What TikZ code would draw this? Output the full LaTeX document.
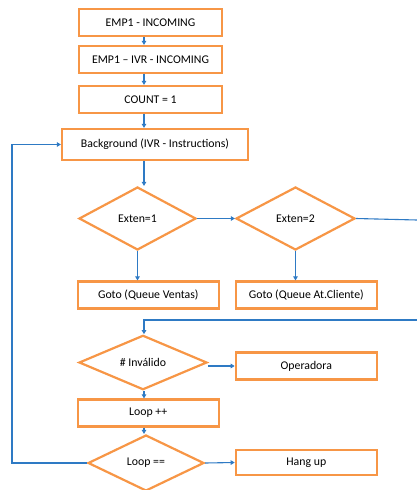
\documentclass[tikz,border=0pt]{standalone}
\usepackage{fontspec}
\setmainfont{Carlito}
\usepackage{tikz}
\usetikzlibrary{arrows.meta,shapes.geometric}

\definecolor{boxorange}{HTML}{F79646}
\definecolor{lineblue}{HTML}{2E7AC4}

\begin{document}
\begin{tikzpicture}[
  x=1pt, y=-1pt,
  font=\fontsize{11.8}{13}\selectfont,
  box/.style={draw=boxorange, line width=2.2pt, fill=white, minimum width=143pt, minimum height=27pt, align=center},
  test/.style={draw=boxorange, line width=2.2pt, fill=white, diamond, inner sep=0pt, align=center},
  flow/.style={draw=lineblue, line width=1.1pt},
  >={Triangle[length=4pt,width=4.5pt]}
]
  \useasboundingbox (0,0) rectangle (417,490);

  % Nodes
  \node[box] (inc) at (150.5,22.5) {EMP1 - INCOMING};
  \node[box] (ivr) at (150.5,59.5) {EMP1 -- IVR - INCOMING};
  \node[box] (count) at (150.5,99.5) {COUNT = 1};
  \node[box, minimum width=186pt, minimum height=31pt] (bg) at (155,144.5) {Background (IVR - Instructions)};
  \node[test, minimum width=117pt, minimum height=63pt] (ext1) at (137.5,218.5) {Exten=1};
  \node[test, minimum width=119pt, minimum height=63pt] (ext2) at (295.5,218.5) {Exten=2};
  \node[box, minimum width=141pt] (ventas) at (148.3,295) {Goto (Queue Ventas)};
  \node[box, minimum width=141pt] (cliente) at (306.3,295) {Goto (Queue At.Cliente)};
  \node[test, minimum width=128pt, minimum height=51pt] (inval) at (143,362.5) {\# Inválido};
  \node[box, minimum width=141pt] (oper) at (306.3,366) {Operadora};
  \node[box, minimum width=141pt] (loopinc) at (148.3,413) {Loop ++};
  \node[test, minimum width=116pt, minimum height=56pt] (loopeq) at (146,463) {Loop ==};
  \node[box, minimum width=141pt, minimum height=25pt] (hang) at (306.3,462.5) {Hang up};

  \coordinate (spine) at (144,0);
  \coordinate (back) at (12,0);
  \coordinate (out) at (417,220);
  \coordinate (in) at (417,320);

  % Arrows
  \draw[flow,->] (inc.south -| spine) -- (ivr.north -| spine);
  \draw[flow,->] (ivr.south -| spine) -- (count.north -| spine);
  \draw[flow,->] (count.south -| spine) -- (bg.north -| spine);
  \draw[flow,->] (bg.south -| spine) -- (ext1.north -| spine);
  \draw[flow,->] (ext1.east) -- (ext2.west);
  \draw[flow] (ext2.east) -- (out);
  \draw[flow,->] (ext1.south) -- (ext1.south |- ventas.north);
  \draw[flow,->] (ext2.south) -- (ext2.south |- cliente.north);
  \draw[flow,->] (in) -| (inval.north -| spine);
  \draw[flow,->] (inval.east |- oper) -- (oper.west);
  \draw[flow,->] (inval.south -| spine) -- (loopinc.north -| spine);
  \draw[flow,->] (loopinc.south -| spine) -- (loopeq.north -| spine);
  \draw[flow,->] (loopeq.east) -- (hang.west);
  \draw[flow,->] (loopeq.west) -- (loopeq.west -| back) |- (bg.west);
\end{tikzpicture}
\end{document}
